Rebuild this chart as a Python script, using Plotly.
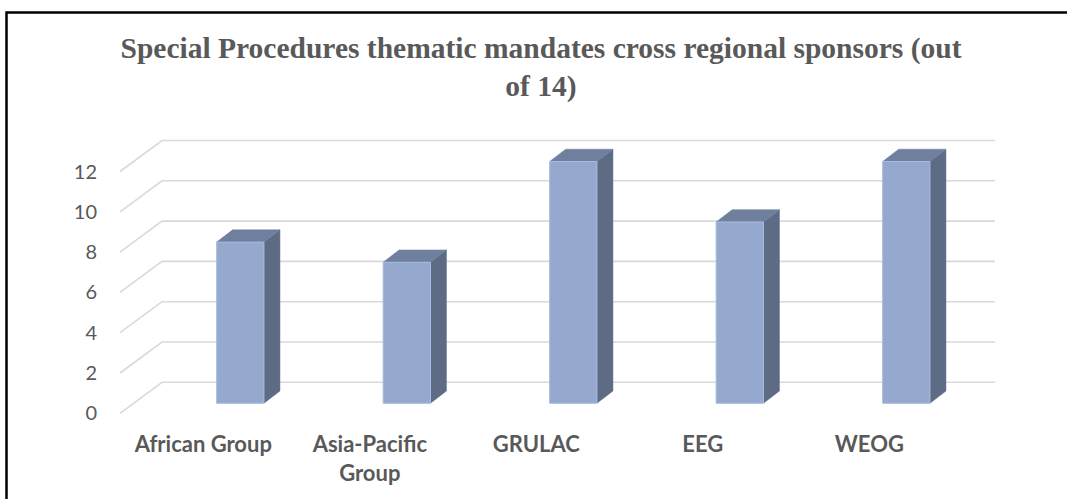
import plotly.graph_objects as go

# ---- data ----
categories = ["African Group", "Asia-Pacific<br>Group", "GRULAC", "EEG", "WEOG"]
values = [8, 7, 12, 9, 12]
y_ticks = [0, 2, 4, 6, 8, 10, 12]
title_text = "Special Procedures thematic mandates cross regional sponsors (out<br>of 14)"

# ---- layout geometry (pixels) ----
W, H = 1067, 499
ML, MR, MT, MB = 105, 40, 130, 74
PX_PER_CAT = 166.5          # pixel distance between categories
PX_PER_UNIT = 20.15         # pixel per value unit
FIRST_CAT_PX = 240.3        # pixel of first bar center
ZERO_PX = 403.3             # pixel of value 0 on bar front plane
BAR_W_PX = 47.3
BAR_DEPTH = (16, 12.3)      # bar depth offset (dx, dy up) in px
FLOOR_FRONT = (120, 10)     # left x of floor front edge, dy below bar plane
WALL_BACK = (162, 21)       # left x of back wall, dy above bar plane
WALL_RIGHT_PX = 995
LABEL_SHIFT_PX = -37

plot_w = W - ML - MR
plot_h = H - MT - MB
xmin = -(FIRST_CAT_PX - ML) / PX_PER_CAT
xmax = xmin + plot_w / PX_PER_CAT
ymax = (ZERO_PX - MT) / PX_PER_UNIT
ymin = ymax - plot_h / PX_PER_UNIT

def px_to_x(px):
    return xmin + (px - ML) / PX_PER_CAT

positions = list(range(len(categories)))
half = BAR_W_PX / PX_PER_CAT / 2
ddx = BAR_DEPTH[0] / PX_PER_CAT
ddy = BAR_DEPTH[1] / PX_PER_UNIT

fig = go.Figure()

# gridlines: back wall + left wall diagonals
front_dy = FLOOR_FRONT[1] / PX_PER_UNIT
back_dy = WALL_BACK[1] / PX_PER_UNIT
gx, gy = [], []
for t in y_ticks:
    gx += [px_to_x(FLOOR_FRONT[0]), px_to_x(WALL_BACK[0]), px_to_x(WALL_RIGHT_PX), None]
    gy += [t - front_dy, t + back_dy, t + back_dy, None]
fig.add_trace(go.Scatter(x=gx, y=gy, mode="lines", line=dict(color="#d9d9d9", width=1.6),
                         hoverinfo="skip", showlegend=False))

# bars drawn as three faces each
for c, v in zip(positions, values):
    sx = [c + half, c + half + ddx, c + half + ddx, c + half, c + half]
    sy = [0, ddy, v + ddy, v, 0]
    fig.add_trace(go.Scatter(x=sx, y=sy, mode="lines", fill="toself", fillcolor="#5d6b85",
                             line=dict(color="#5d6b85", width=0.5), hoverinfo="skip", showlegend=False))
    tx = [c - half, c + half, c + half + ddx, c - half + ddx, c - half]
    ty = [v, v, v + ddy, v + ddy, v]
    fig.add_trace(go.Scatter(x=tx, y=ty, mode="lines", fill="toself", fillcolor="#6f7f9e",
                             line=dict(color="#6f7f9e", width=0.5), hoverinfo="skip", showlegend=False))
    fx = [c - half, c + half, c + half, c - half, c - half]
    fy = [0, 0, v, v, 0]
    fig.add_trace(go.Scatter(x=fx, y=fy, mode="lines", fill="toself", fillcolor="#95a9cf",
                             line=dict(color="#a9bbdc", width=1), showlegend=False,
                             hovertemplate=f"{v}<extra></extra>"))

# invisible trace for the label axes
fig.add_trace(go.Scatter(x=positions, y=values, xaxis="x2", yaxis="y2", mode="markers",
                         marker=dict(opacity=0), hoverinfo="skip", showlegend=False))

shift = LABEL_SHIFT_PX / PX_PER_CAT
fig.update_layout(
    width=W, height=H,
    margin=dict(l=ML, r=MR, t=MT, b=MB),
    paper_bgcolor="white", plot_bgcolor="white",
    title=dict(text=title_text, x=541 / W, xanchor="center", xref="container",
               y=1 - 58 / H, yanchor="top", yref="container",
               font=dict(family="Liberation Serif", size=29.5, color="#595959", weight="bold")),
    xaxis=dict(range=[xmin, xmax], showgrid=False, zeroline=False, showticklabels=False,
               showline=False, fixedrange=True),
    yaxis=dict(range=[ymin, ymax], showgrid=False, zeroline=False, showticklabels=False,
               showline=False),
    xaxis2=dict(range=[xmin - shift, xmax - shift], overlaying="x", anchor="y2", side="bottom",
                tickvals=positions, ticktext=categories, showgrid=False, zeroline=False,
                showline=False, ticks="", ticklabelstandoff=4,
                tickfont=dict(family="Lato", size=22, color="#595959", weight="bold")),
    yaxis2=dict(range=[ymin + front_dy, ymax + front_dy], overlaying="y", anchor="x2", side="left",
                tickvals=y_ticks, showgrid=False, zeroline=False, showline=False, ticks="",
                ticklabelstandoff=7,
                tickfont=dict(family="Lato", size=20, color="#595959")),
    shapes=[dict(type="rect", xref="paper", yref="paper",
                 x0=(6.5 - ML) / plot_w, x1=(W + 20 - ML) / plot_w,
                 y0=-0.5, y1=(H - MB - 12.5) / plot_h,
                 line=dict(color="black", width=2.5), fillcolor="rgba(0,0,0,0)", layer="above")],
)

fig.write_html("out.html", config={"displayModeBar": False},
               post_script="document.body.style.margin='0';document.body.style.overflow='hidden';")
